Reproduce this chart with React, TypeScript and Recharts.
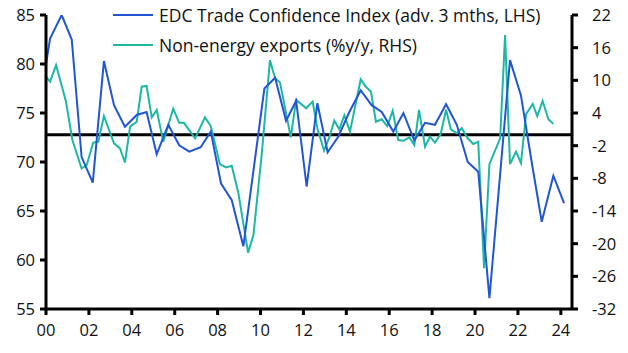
import React from "react";
import { ComposedChart, Line, XAxis, YAxis, ReferenceLine, Legend } from "recharts";

const edcYears = [0.0, 0.19, 0.73, 1.2, 1.66, 2.18, 2.7, 3.17, 3.68, 4.23, 4.69, 5.16, 5.7, 6.21, 6.68, 7.21, 7.68, 8.16, 8.66, 9.2, 10.18, 10.68, 11.19, 11.66, 12.15, 12.65, 13.13, 13.63, 14.14, 14.67, 15.18, 15.65, 16.19, 16.66, 17.17, 17.67, 18.13, 18.65, 19.15, 19.66, 20.15, 20.67, 21.63, 22.14, 22.64, 23.11, 23.65, 24.15];
const edcValues = [80.0, 82.6, 85.0, 82.5, 70.5, 67.9, 80.3, 75.8, 73.6, 74.8, 75.1, 70.8, 73.8, 71.7, 71.05, 71.5, 73.1, 67.8, 66.1, 61.4, 77.5, 78.6, 74.2, 76.25, 67.5, 76.0, 71.0, 72.6, 75.1, 77.3, 75.8, 75.1, 73.1, 75.0, 72.2, 74.0, 73.8, 75.9, 73.8, 70.0, 69.0, 56.1, 80.4, 76.8, 70.0, 63.9, 68.6, 65.8];

const expYears = [0.0, 0.19, 0.47, 0.93, 1.23, 1.66, 1.9, 2.2, 2.44, 2.7, 3.17, 3.45, 3.68, 3.92, 4.23, 4.46, 4.69, 4.93, 5.16, 5.47, 5.93, 6.21, 6.43, 6.95, 7.41, 7.68, 8.11, 8.39, 8.66, 8.97, 9.42, 9.67, 10.06, 10.44, 10.68, 10.91, 11.41, 11.66, 11.97, 12.12, 12.43, 12.65, 12.96, 13.21, 13.44, 13.67, 13.91, 14.17, 14.67, 14.87, 15.15, 15.38, 15.65, 15.91, 16.16, 16.42, 16.66, 16.94, 17.17, 17.39, 17.67, 17.9, 18.13, 18.4, 18.65, 18.87, 19.15, 19.38, 19.66, 19.92, 20.15, 20.42, 20.67, 21.17, 21.4, 21.63, 21.91, 22.14, 22.38, 22.69, 22.9, 23.15, 23.42, 23.65];
const expValues = [10.67, 9.75, 12.8, 6.1, -0.96, -6.2, -5.55, -1.45, -1.27, 3.45, -1.57, -2.5, -5.1, 1.5, 2.4, 8.83, 8.96, 3.2, 4.55, -1.27, 4.8, 2.2, 2.2, -0.65, 3.2, 1.6, -5.4, -6.0, -5.7, -10.75, -21.65, -18.4, -3.4, 13.7, 10.4, 9.6, -0.46, 6.4, 5.4, 4.86, 6.1, 1.2, -2.9, -0.45, 2.6, 1.0, 3.6, 0.57, 10.2, 9.0, 7.9, 2.4, 2.85, 1.6, 4.4, -0.96, -1.1, -0.46, -1.9, 4.55, -2.2, -0.35, -1.45, 0.14, 4.6, 1.0, 0.27, 1.2, -0.65, -1.7, -1.27, -24.5, -5.4, -0.65, 18.3, -5.4, -3.1, -5.2, 3.8, 5.65, 3.45, 6.2, 2.85, 2.0];

const xTicks = [0, 2, 4, 6, 8, 10, 12, 14, 16, 18, 20, 22, 24];
const leftTicks = [55, 60, 65, 70, 75, 80, 85];
const rightTicks = [-32, -26, -20, -14, -8, -2, 4, 10, 16, 22];

const edcLabel = "EDC Trade Confidence Index (adv. 3 mths, LHS)";
const expLabel = "Non-energy exports (%y/y, RHS)";

const edcData = edcYears.map((x, i) => ({ x, edc: edcValues[i] }));
const expData = expYears.map((x, i) => ({ x, exp: expValues[i] }));

const BLUE = "#2255d4";
const TEAL = "#1db8a5";
const FONT = "'Open Sans', sans-serif";

const LegendContent = () => (
  <div style={{ fontFamily: FONT, fontSize: 17.5, color: "#111", lineHeight: "30px" }}>
    {[
      { c: BLUE, t: edcLabel },
      { c: TEAL, t: expLabel },
    ].map((it) => (
      <div key={it.t} style={{ display: "flex", alignItems: "center", whiteSpace: "nowrap" }}>
        <span style={{ display: "inline-block", width: 40, height: 2, background: it.c, marginRight: 6 }} />
        <span>{it.t}</span>
      </div>
    ))}
  </div>
);

export default function App() {
  const tickStyle = { fontFamily: FONT, fontSize: 16.5, fill: "#111" };
  return (
    <div style={{ position: "absolute", left: 0, top: 0, width: 628, height: 353, background: "#fff" }}>
      <ComposedChart width={628} height={353} margin={{ top: 15, right: 0, bottom: 0, left: 0 }}>
        <XAxis
          type="number"
          dataKey="x"
          domain={[0, 24.52]}
          ticks={xTicks}
          allowDataOverflow
          tickFormatter={(v) => String(v).padStart(2, "0")}
          axisLine={{ stroke: "#000", strokeWidth: 3 }}
          tickLine={{ stroke: "#000", strokeWidth: 3 }}
          tickSize={6}
          tickMargin={9}
          tick={tickStyle}
          height={44}
        />
        <YAxis
          yAxisId="left"
          domain={[55, 85]}
          ticks={leftTicks}
          allowDataOverflow
          width={46}
          axisLine={{ stroke: "#000", strokeWidth: 3 }}
          tickLine={{ stroke: "#000", strokeWidth: 3 }}
          tickSize={6}
          tickMargin={5}
          tick={tickStyle}
        />
        <YAxis
          yAxisId="right"
          orientation="right"
          domain={[-32, 22]}
          ticks={rightTicks}
          allowDataOverflow
          width={56}
          axisLine={{ stroke: "#000", strokeWidth: 3 }}
          tickLine={{ stroke: "#000", strokeWidth: 3 }}
          tickSize={6}
          tickMargin={14}
          tick={tickStyle}
        />
        <ReferenceLine yAxisId="right" y={0} stroke="#000" strokeWidth={3} />
        <Line
          yAxisId="right"
          data={expData}
          dataKey="exp"
          stroke={TEAL}
          strokeWidth={2}
          dot={false}
          isAnimationActive={false}
          name={expLabel}
        />
        <Line
          yAxisId="left"
          data={edcData}
          dataKey="edc"
          stroke={BLUE}
          strokeWidth={2}
          dot={false}
          isAnimationActive={false}
          name={edcLabel}
        />
        <Legend
          layout="vertical"
          align="center"
          verticalAlign="middle"
          content={<LegendContent />}
          wrapperStyle={{ position: "absolute", left: 113, top: 0, width: 480, height: 60 }}
        />
      </ComposedChart>
    </div>
  );
}
